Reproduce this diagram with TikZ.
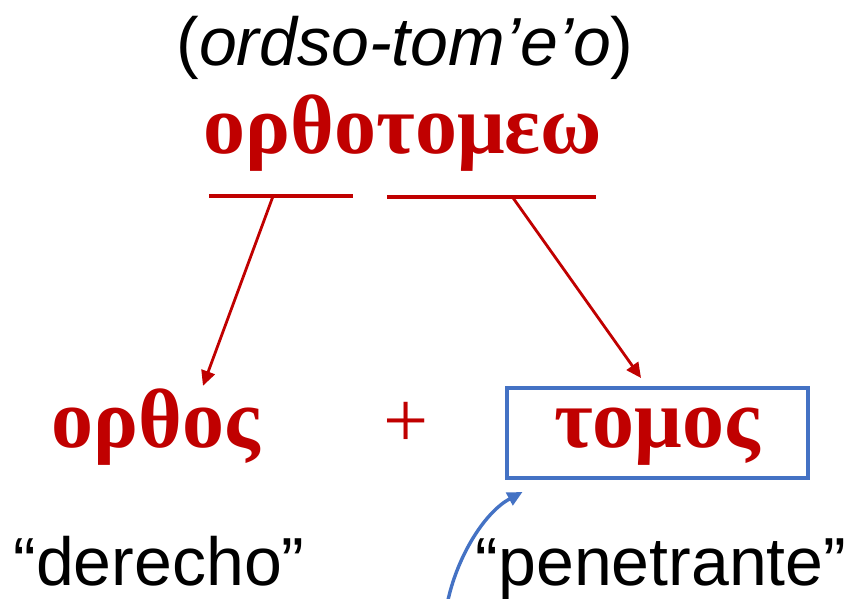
\documentclass[tikz,border=0pt]{standalone}
\usepackage{fontspec}
\setmainfont{Liberation Serif}
\newfontfamily\arialfont{Liberation Sans}
\usetikzlibrary{arrows.meta}
\definecolor{darkred}{HTML}{C00000}
\definecolor{boxblue}{HTML}{4472C4}
\tikzstyle{sans}=[inner sep=0pt, font=\arialfont\fontsize{68}{72}\selectfont]
\tikzstyle{greek}=[inner sep=0pt, text=darkred, font=\bfseries\fontsize{84}{90}\selectfont]
\tikzstyle{under}=[darkred, line width=3.2pt]
\tikzstyle{redarrow}=[darkred, line width=2.8pt, -{Triangle[length=15pt,width=14pt]}]
\tikzstyle{bluearrow}=[boxblue, line width=3.4pt, -{Triangle[length=15pt,width=14pt]}]

\begin{document}
\begin{tikzpicture}[x=1pt,y=-1pt]
\useasboundingbox (0,0) rectangle (850,598);

\node[sans, anchor=base] (t) at (405,65) {(\textit{ordso-tom’e’o})};
\node[greek, anchor=base] (w) at (403,153) {ορθοτομεω};

\draw[under] (209,196) -- coordinate[pos=0.445] (lt) (353,196);
\draw[under] (387,197) -- coordinate[pos=0.60] (rt) (596,197);

\node[greek, anchor=base, text height=61pt] (o) at (156,447) {ορθος};
\node[inner sep=0pt, text=darkred, font=\fontsize{80}{84}\selectfont] (p) at (406,425) {+};
\node[greek, draw=boxblue, line width=4pt, text height=45pt, text depth=17pt,
      minimum width=301pt, minimum height=90pt] (b) at (657,433) {τομος};

\draw[redarrow] (lt) -- ([xshift=47pt]o.north);
\draw[redarrow] (rt) -- ([xshift=-16pt,yshift=8pt]b.north);

\node[sans, anchor=base] (d) at (159,585) {“derecho”};
\node[sans, anchor=base] (n) at (661,585) {“penetrante”};

\coordinate (s) at (448,600);
\draw[bluearrow] (s) .. controls (458,555) and (485,512) .. ([xshift=18pt,yshift=-12pt]b.south west);

\end{tikzpicture}
\end{document}
